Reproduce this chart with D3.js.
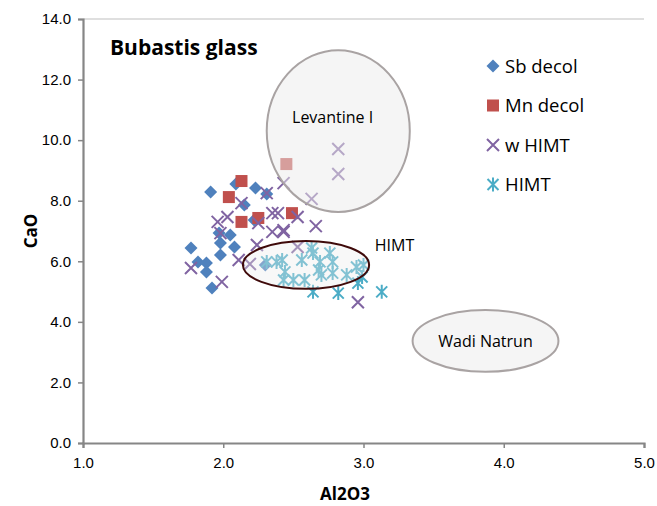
<!DOCTYPE html>
<html>
<head>
<meta charset="utf-8">
<script src="https://cdn.jsdelivr.net/npm/d3@7"></script>
<style>
  body { margin: 0; background: #fff; }
  svg { font-family: "Open Sans", "Liberation Sans", sans-serif; }
</style>
</head>
<body>
<svg id="chart"></svg>
<script>
const width = 657;
const height = 506;

// Al2O3 / CaO values per group
const sbDecol = [
  [1.91, 8.29], [2.09, 8.55], [2.23, 8.42], [2.15, 7.86], [2.31, 8.22],
  [2.22, 7.36], [1.97, 6.93], [2.05, 6.87], [1.98, 6.60], [2.08, 6.47],
  [1.98, 6.21], [1.77, 6.44], [1.82, 5.98], [1.88, 5.94], [1.88, 5.65],
  [1.92, 5.12], [2.30, 5.88]
];
const mnDecol = [
  [2.13, 8.65], [2.04, 8.12], [2.13, 7.30], [2.25, 7.43], [2.49, 7.59], [2.45, 9.21]
];
const wHimt = [
  [2.82, 9.71], [2.82, 8.88], [2.43, 8.58], [2.63, 8.06], [2.31, 8.25],
  [2.13, 7.92], [2.53, 7.46], [2.35, 7.59], [2.39, 7.59], [2.03, 7.46],
  [1.96, 7.30], [2.25, 7.26], [2.43, 7.03], [2.66, 7.16], [2.35, 6.97],
  [2.43, 6.97], [1.98, 6.93], [2.24, 6.54], [2.53, 6.47], [2.11, 6.04],
  [2.19, 5.91], [1.77, 5.78], [1.99, 5.32], [2.96, 4.65]
];
const himt = [
  [2.31, 5.98], [2.38, 5.98], [2.42, 6.04], [2.56, 6.04], [2.63, 6.44],
  [2.64, 6.27], [2.76, 6.27], [2.78, 5.98], [2.69, 5.98], [2.44, 5.65],
  [2.43, 5.38], [2.50, 5.38], [2.58, 5.38], [2.68, 5.71], [2.70, 5.55],
  [2.78, 5.61], [2.88, 5.55], [2.95, 5.81], [2.99, 5.48], [2.96, 5.28],
  [2.64, 4.99], [2.82, 4.95], [3.13, 4.99], [3.00, 5.88]
];

// reference fields: [name, cx, cy, rx, ry]
const fields = [
  ["Levantine I", 2.82, 10.30, 0.51, 2.67],
  ["HIMT", 2.59, 5.88, 0.45, 0.79],
  ["Wadi Natrun", 3.87, 3.37, 0.52, 1.02]
];

const xTicks = [1, 2, 3, 4, 5];
const yTicks = [0, 2, 4, 6, 8, 10, 12, 14];

const svg = d3.select("#chart")
  .attr("width", width)
  .attr("height", height);

const x = d3.scaleLinear().domain([1, 5]).range([83, 644]);
const y = d3.scaleLinear().domain([0, 14]).range([443, 19]);

const axisColor = "#868686";

// top border of plot area
svg.append("line")
  .attr("x1", x(1)).attr("x2", x(5))
  .attr("y1", y(14)).attr("y2", y(14))
  .attr("stroke", "#bfbfbf").attr("stroke-width", 1);

// axes
const xAxis = svg.append("g")
  .attr("transform", `translate(0,${y(0)})`)
  .call(d3.axisBottom(x).tickValues(xTicks).tickFormat(d3.format(".1f")).tickSize(5).tickPadding(9));
const yAxis = svg.append("g")
  .attr("transform", `translate(${x(1)},0)`)
  .call(d3.axisLeft(y).tickValues(yTicks).tickFormat(d3.format(".1f")).tickSize(5).tickPadding(7));

[xAxis, yAxis].forEach(a => {
  a.select(".domain").attr("stroke", axisColor).attr("stroke-width", 2.2);
  a.selectAll(".tick line").attr("stroke", axisColor).attr("stroke-width", 1.5);
  a.selectAll(".tick text").attr("fill", "#000").style("font-size", "15px");
});

svg.append("text")
  .attr("x", 345).attr("y", 500)
  .attr("text-anchor", "middle")
  .style("font-size", "17px").style("font-weight", "bold")
  .text("Al2O3");

svg.append("text")
  .attr("transform", `translate(37,${(y(0) + y(14)) / 2}) rotate(-90)`)
  .attr("text-anchor", "middle")
  .style("font-size", "17px").style("font-weight", "bold")
  .text("CaO");

svg.append("text")
  .attr("x", 110).attr("y", 55)
  .style("font-size", "21px").style("font-weight", "bold")
  .text("Bubastis glass");

// marker shapes
const diamond = (g, c) => g.append("path").attr("d", "M0,-6.5L6.5,0L0,6.5L-6.5,0Z").attr("fill", c);
const square = (g, c) => g.append("rect").attr("x", -6).attr("y", -6).attr("width", 12).attr("height", 12).attr("fill", c);
const cross = (g, c) => g.append("path").attr("d", "M-6,-6L6,6M-6,6L6,-6").attr("stroke", c).attr("stroke-width", 2).attr("fill", "none");
const star = (g, c) => g.append("path").attr("d", "M-5.5,-5.5L5.5,5.5M-5.5,5.5L5.5,-5.5M0,-7L0,7").attr("stroke", c).attr("stroke-width", 2).attr("fill", "none");

const series = [
  { name: "Sb decol", data: sbDecol, color: "#4f81bd", shape: diamond },
  { name: "Mn decol", data: mnDecol, color: "#c0504d", shape: square },
  { name: "w HIMT", data: wHimt, color: "#8064a2", shape: cross },
  { name: "HIMT", data: himt, color: "#4bacc6", shape: star }
];

series.forEach(s => {
  svg.append("g")
    .selectAll("g")
    .data(s.data)
    .enter()
    .append("g")
    .attr("transform", d => `translate(${x(d[0])},${y(d[1])})`)
    .each(function () { s.shape(d3.select(this), s.color); });
});

// fields drawn over the points, half transparent
svg.append("g")
  .selectAll("ellipse")
  .data(fields)
  .enter()
  .append("ellipse")
  .attr("cx", d => x(d[1]))
  .attr("cy", d => y(d[2]))
  .attr("rx", d => x(1 + d[3]) - x(1))
  .attr("ry", d => y(0) - y(d[4]))
  .attr("fill", "#ececec")
  .attr("fill-opacity", d => d[0] === "HIMT" ? 0.35 : 0.5)
  .attr("stroke", d => d[0] === "HIMT" ? "#3f0a0a" : "#a9a3a3")
  .attr("stroke-width", 2);

svg.append("text").attr("x", x(2.78)).attr("y", y(10.56))
  .attr("text-anchor", "middle").style("font-size", "16px").text("Levantine I");
svg.append("text").attr("x", x(3.08)).attr("y", y(6.35))
  .style("font-size", "16px").text("HIMT");
svg.append("text").attr("x", x(3.87)).attr("y", y(3.17))
  .attr("text-anchor", "middle").style("font-size", "16px").text("Wadi Natrun");

// legend
const legend = svg.append("g").attr("transform", "translate(493,66)");
series.forEach((s, i) => {
  const row = legend.append("g").attr("transform", `translate(0,${i * 39.5})`);
  s.shape(row, s.color);
  row.append("text").attr("x", 12).attr("y", 6.5)
    .style("font-size", "18.5px").text(s.name);
});
</script>
</body>
</html>
